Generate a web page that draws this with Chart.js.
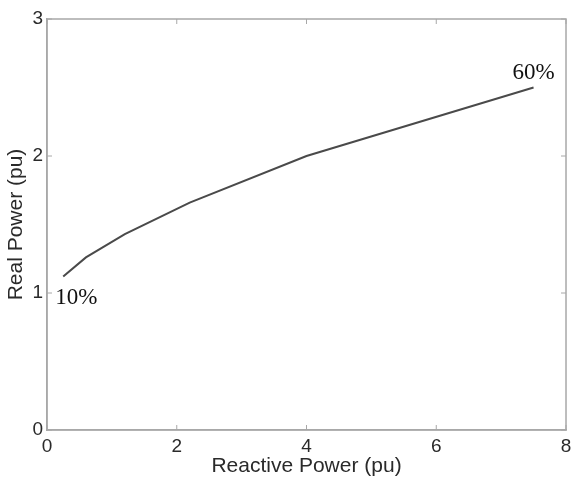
<!DOCTYPE html>
<html>
<head>
<meta charset="utf-8">
<script src="https://cdn.jsdelivr.net/npm/chart.js@4/dist/chart.umd.min.js"></script>
<style>
  html, body { margin: 0; padding: 0; background: #fff; }
  #wrap { width: 573px; height: 477px; }
</style>
</head>
<body>
<div id="wrap"><canvas id="curve"></canvas></div>
<script>
// values
var reactivePower = [0.25, 0.6, 1.2, 2.2, 4.0, 7.5];
var realPower = [1.12, 1.26, 1.43, 1.66, 2.0, 2.5];
var endLabels = ["10%", "60%"];
var xTicks = [0, 2, 4, 6, 8];
var yTicks = [0, 1, 2, 3];

var axisGray = "#a8a8a8";
var textGray = "#2a2a2a";
var sansFont = "'Liberation Sans', Arial";

var pts = [];
for (var i = 0; i < reactivePower.length; i++) {
    pts.push({x: reactivePower[i], y: realPower[i]});
}

// box on top/right, small inward ticks, and the % labels
var boxPlugin = {
    id: "matlabBox",
    afterDraw: function(chart) {
        var ctx = chart.ctx, a = chart.chartArea;
        var xs = chart.scales.x, ys = chart.scales.y;
        ctx.save();
        ctx.strokeStyle = axisGray;
        ctx.lineWidth = 1.5;
        ctx.strokeRect(a.left, a.top, a.right - a.left, a.bottom - a.top);
        ctx.lineWidth = 1;
        xTicks.forEach(function(v) {
            var px = xs.getPixelForValue(v);
            ctx.beginPath();
            ctx.moveTo(px, a.bottom); ctx.lineTo(px, a.bottom - 5);
            ctx.moveTo(px, a.top); ctx.lineTo(px, a.top + 5);
            ctx.stroke();
        });
        yTicks.forEach(function(v) {
            var py = ys.getPixelForValue(v);
            ctx.beginPath();
            ctx.moveTo(a.left, py); ctx.lineTo(a.left + 5, py);
            ctx.moveTo(a.right, py); ctx.lineTo(a.right - 5, py);
            ctx.stroke();
        });

        var meta = chart.getDatasetMeta(0).data;
        var first = meta[0], last = meta[meta.length - 1];
        ctx.fillStyle = "#111";
        ctx.font = "23px 'Liberation Serif'";
        ctx.textBaseline = "alphabetic";
        ctx.textAlign = "left";
        ctx.fillText(endLabels[0], first.x - 8, first.y + 27);
        ctx.textAlign = "right";
        ctx.fillText(endLabels[1], last.x + 21, last.y - 9);
        ctx.restore();
    }
};

new Chart(document.getElementById("curve").getContext("2d"), {
    type: "line",
    data: {
        datasets: [{
            data: pts,
            borderColor: "#4a4a4a",
            borderWidth: 2,
            pointRadius: 0,
            tension: 0,
            fill: false
        }]
    },
    options: {
        responsive: true,
        maintainAspectRatio: false,
        animation: false,
        layout: { padding: { top: 19, right: 7, left: 0, bottom: 0 } },
        plugins: { legend: { display: false }, tooltip: { enabled: false } },
        scales: {
            x: {
                type: "linear",
                min: 0, max: 8,
                afterFit: function(s) { s.height = 47; s.paddingLeft = 0; s.paddingRight = 0; },
                afterBuildTicks: function(s) { s.ticks = xTicks.map(function(v) { return {value: v}; }); },
                grid: { display: false, drawTicks: false },
                border: { display: true, color: axisGray, width: 1.5 },
                ticks: { color: textGray, padding: 5, maxRotation: 0,
                         font: { family: sansFont, size: 19 } },
                title: { display: true, text: "Reactive Power (pu)", color: textGray,
                         padding: { top: 0, bottom: -2 },
                         font: { family: sansFont, size: 21 } }
            },
            y: {
                type: "linear",
                min: 0, max: 3,
                afterFit: function(s) { s.width = 47; s.paddingTop = 0; s.paddingBottom = 0; },
                afterBuildTicks: function(s) { s.ticks = yTicks.map(function(v) { return {value: v}; }); },
                grid: { display: false, drawTicks: false },
                border: { display: true, color: axisGray, width: 1.5 },
                ticks: { color: textGray, padding: 4,
                         font: { family: sansFont, size: 19 } },
                title: { display: true, text: "Real Power (pu)", color: textGray,
                         padding: { top: 4, bottom: 0 },
                         font: { family: sansFont, size: 21 } }
            }
        }
    },
    plugins: [boxPlugin]
});
</script>
</body>
</html>
